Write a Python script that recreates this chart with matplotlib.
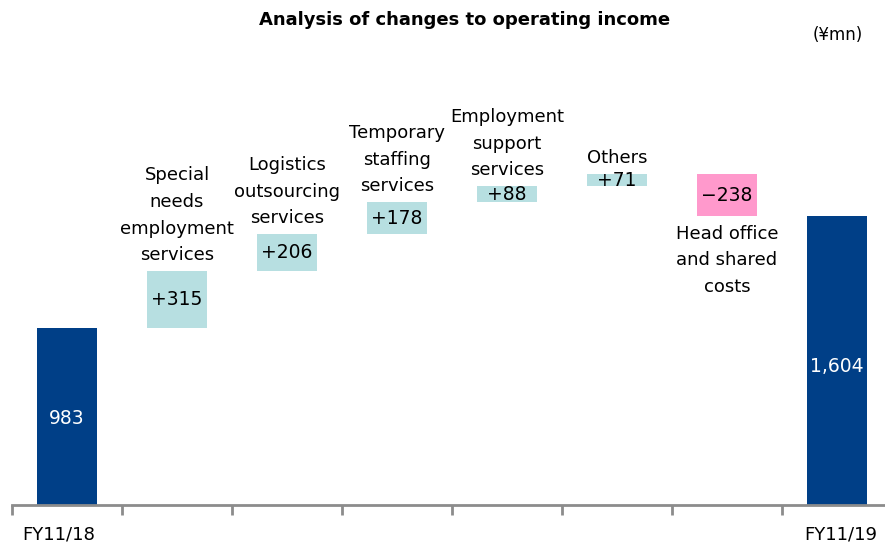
import numpy as np
import matplotlib.pyplot as plt
import matplotlib

matplotlib.rcParams['font.family'] = ['DejaVu Sans']

start_label = 'FY11/18'
end_label = 'FY11/19'
start_value = 983
end_value = 1604
step_labels = ['Special\nneeds\nemployment\nservices',
               'Logistics\noutsourcing\nservices',
               'Temporary\nstaffing\nservices',
               'Employment\nsupport\nservices',
               'Others',
               'Head office\nand shared\ncosts']
step_values = [315, 206, 178, 88, 71, -238]

total_color = '#003F87'
up_color = '#B7DFE1'
down_color = '#FF99CC'
fs = 13

fig = plt.figure(figsize=(8.85, 5.45), dpi=100)
ax = fig.add_axes([12/885, 40/545, 880/885, 450/545])

n = len(step_values) + 2
x = np.arange(n)
w = 60/110

# totals
ax.bar(x[0], start_value, width=w, color=total_color)
ax.bar(x[-1], end_value, width=w, color=total_color)
ax.text(x[0], start_value/2 - 10, f'{start_value:,}', ha='center', va='center', color='white', fontsize=fs + 0.5)
ax.text(x[-1], end_value/2 - 30, f'{end_value:,}', ha='center', va='center', color='white', fontsize=fs + 0.5)

# steps
run = start_value
for i, (lab, v) in enumerate(zip(step_labels, step_values)):
    xi = x[i+1]
    bottom = run if v > 0 else run + v
    col = up_color if v > 0 else down_color
    ax.bar(xi, abs(v), bottom=bottom, width=w, color=col)
    txt = f'+{v}' if v > 0 else f'\u2212{abs(v)}'
    ax.text(xi, bottom + abs(v)/2, txt, ha='center', va='center', color='black', fontsize=fs + 0.5)
    if v > 0:
        ax.annotate(lab, (xi, run + v), xytext=(0, 5), textcoords='offset points',
                    ha='center', va='bottom', fontsize=fs, linespacing=1.62)
    else:
        ax.annotate(lab, (xi, run + v), xytext=(0, -6), textcoords='offset points',
                    ha='center', va='top', fontsize=fs, linespacing=1.62)
    run += v

ax.set_xlim(-0.5, n - 0.5)
ax.set_ylim(0, 2500)
for s in ['top', 'right', 'left']:
    ax.spines[s].set_visible(False)
ax.spines['bottom'].set_color('#8C8C8C')
ax.spines['bottom'].set_linewidth(2)
ax.set_yticks([])
ax.set_xticks(np.arange(n) - 0.5)
ax.set_xticklabels([])
ax.tick_params(axis='x', length=7, width=2, color='#8C8C8C', direction='out')

ax.text(x[0] - 0.08, -0.045, start_label, transform=ax.get_xaxis_transform(), ha='center', va='top', fontsize=fs)
ax.text(x[-1] + 0.03, -0.045, end_label, transform=ax.get_xaxis_transform(), ha='center', va='top', fontsize=fs)

fig.text(465/885, 1 - 20/545, 'Analysis of changes to operating income', ha='center', va='center',
         fontsize=13, fontweight='bold')
fig.text(838/885, 1 - 35/545, '(\u00a5mn)', ha='center', va='center', fontsize=12)

fig.savefig('out.png', dpi=100)
